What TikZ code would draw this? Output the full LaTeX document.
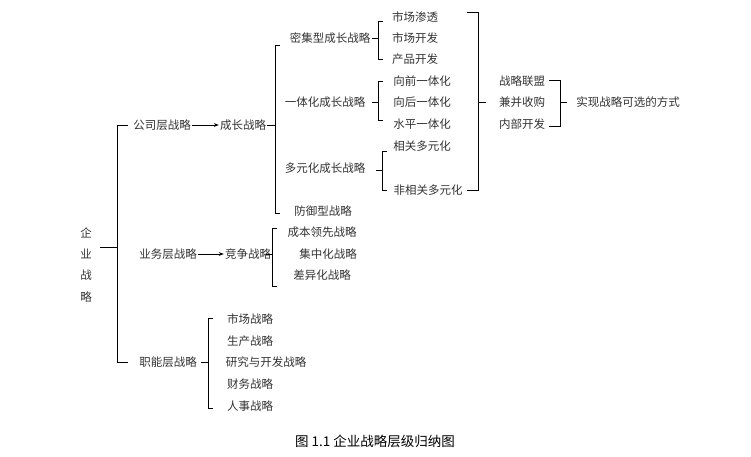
\documentclass[tikz,border=0pt]{standalone}
\usepackage{fontspec}
\setmainfont{Liberation Serif}
\newfontfamily\cjk{Noto Sans CJK SC}
\usetikzlibrary{arrows.meta,positioning}

\tikzset{
  lbl/.style={font=\cjk\fontsize{11.5}{13}\selectfont, inner sep=1pt, text=black!80},
  brk/.style={line width=0.8pt},
}
% \lbrk{x}{top}{bottom}{mid}{tick}
\newcommand{\lbrk}[5]{\draw[brk] (#1+5,#2) -- (#1,#2) -- (#1,#3) -- (#1+5,#3);
  \draw[brk] (#1,#4) -- (#1-#5,#4);}
\newcommand{\rbrk}[5]{\draw[brk] (#1-11,#2) -- (#1,#2) -- (#1,#3) -- (#1-11,#3);
  \draw[brk] (#1,#4) -- (#1+#5,#4);}

\begin{document}
\begin{tikzpicture}[x=1pt,y=-1pt]
      \useasboundingbox (0,0) rectangle (751,457);

      % Root
      \foreach \c [count=\i] in {企,业,战,略}
        \node[lbl] (root\i) at (86,211+21.5*\i) {\c};
      \draw[brk] (128,125) -- (117,125) -- (117,362) -- (128,362);
      \draw[brk] (117,247) -- (100,247);

      % Corporate level
      \node[lbl] (corp) at (162,125) {公司层战略};
      \node[lbl] (grow) at (243,125) {成长战略};
      \draw[-{Stealth[length=5pt]},thick] (corp) -- (grow);
      \lbrk{275}{45}{213}{125}{8}
      \node[lbl] (dense) at (330,38) {密集型成长战略};
      \node[lbl] (integ) at (325,102) {一体化成长战略};
      \node[lbl] (diver) at (325,168) {多元化成长战略};
      \node[lbl] (defen) at (323,211) {防御型战略};

      \lbrk{378}{21}{59}{38}{6}
      \node[lbl] (mpen) at (415,17) {市场渗透};
      \node[lbl] (mdev) at (415,38) {市场开发};
      \node[lbl] (pdev) at (415,59) {产品开发};

      \lbrk{378}{81}{120}{102}{6}
      \node[lbl] (fwd) at (422,81) {向前一体化};
      \node[lbl] (bwd) at (422,102) {向后一体化};
      \node[lbl] (hor) at (422,124) {水平一体化};

      \lbrk{382}{151}{190}{170}{6}
      \node[lbl] (rel) at (422,146) {相关多元化};
      \node[lbl] (unrel) at (428,190) {非相关多元化};

      \rbrk{478}{12}{190}{102}{8}
      \node[lbl] (alli) at (522,81) {战略联盟};
      \node[lbl] (merg) at (522,102) {兼并收购};
      \node[lbl] (idev) at (522,124) {内部开发};
      \rbrk{560}{80}{126}{102}{7}
      \node[lbl] (ways) at (628,102) {实现战略可选的方式};

      % Business level
      \node[lbl] (busi) at (168,254) {业务层战略};
      \node[lbl] (comp) at (248,254) {竞争战略};
      \draw[-{Stealth[length=5pt]},thick] (busi) -- (comp);
      \lbrk{272}{228}{286}{254}{6}
      \node[lbl] (cost) at (322,232) {成本领先战略};
      \node[lbl] (focus) at (328,254) {集中化战略};
      \node[lbl] (diff) at (322,275) {差异化战略};

      % Functional level
      \node[lbl] (func) at (168,362) {职能层战略};
      \lbrk{208}{318}{408}{362}{7}
      \node[lbl] (mkt) at (250,319) {市场战略};
      \node[lbl] (prod) at (250,341) {生产战略};
      \node[lbl] (rnd) at (266,362) {研究与开发战略};
      \node[lbl] (fin) at (250,384) {财务战略};
      \node[lbl] (hr) at (250,406) {人事战略};

      % Caption
      \node[inner sep=0pt,font=\cjk\fontsize{13.5}{15}\selectfont] (cap) at (375,441) {图 1.1 企业战略层级归纳图};
\end{tikzpicture}
\end{document}
